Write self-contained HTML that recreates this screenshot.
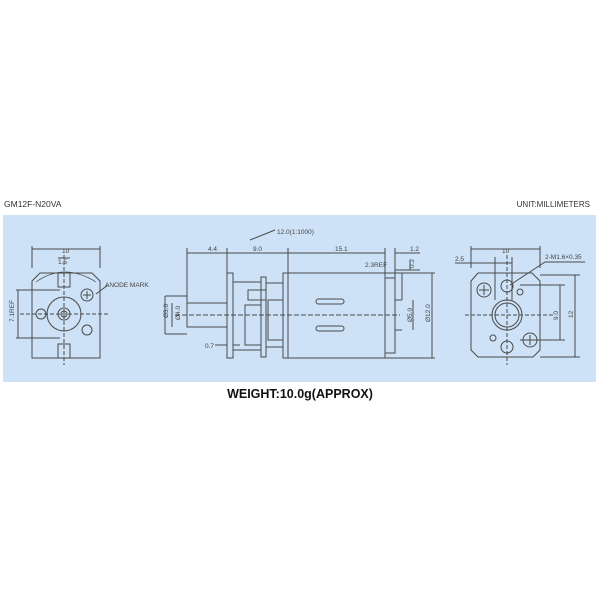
<!DOCTYPE html>
<html><head><meta charset="utf-8"><style>
html,body{margin:0;padding:0;background:#fff;width:600px;height:600px;overflow:hidden}
svg{display:block}
text{font-family:"Liberation Sans",sans-serif}
</style></head><body>
<svg width="600" height="600" viewBox="0 0 600 600" xmlns="http://www.w3.org/2000/svg">
<rect width="600" height="600" fill="#fff"/>
<text x="4" y="207" font-size="8.5" fill="#333">GM12F-N20VA</text>
<text x="590" y="207" font-size="8" fill="#333" text-anchor="end">UNIT:MILLIMETERS</text>
<rect x="3" y="215" width="593" height="167" fill="#cde2f6"/>
<text x="300" y="398" font-size="12.5" font-weight="bold" fill="#111" text-anchor="middle">WEIGHT:10.0g(APPROX)</text>
<g stroke="#4a4a4a" stroke-width="1" fill="none">
<!-- left view -->
<path d="M40,273 H92 L100,281 V358 H32 V281 Z"/>
<path d="M36,282 Q64,262 96,282" stroke-width="0.7"/>
<circle cx="64" cy="314" r="17"/><circle cx="64" cy="314" r="6"/><circle cx="64" cy="314" r="3"/>
<circle cx="41" cy="314" r="5"/><circle cx="87" cy="330" r="5"/><circle cx="87" cy="295" r="6"/>
<path d="M87,291 V299 M83,295 H91"/>
<rect x="58" y="273" width="12" height="14"/><rect x="58" y="344" width="12" height="14"/>
<path d="M32,246 V268 M100,246 V268 M32,249 H100 M58,258 H70 M16,290 H60 M16,338 H60 M18,290 V338 M96,294 L108,285" />
<path d="M20,314 H110 M64,255 V365" stroke-dasharray="4,2"/>
<!-- middle view -->
<rect x="187" y="303" width="40" height="24"/>
<rect x="227" y="273" width="6" height="85"/>
<rect x="261" y="277" width="5" height="80"/>
<rect x="283" y="273" width="5" height="85"/>
<rect x="288" y="273" width="97" height="85"/>
<rect x="385" y="278" width="10" height="75"/>
<path d="M233,282 H261 M233,350 H261 M266,283 H283 M266,347 H283 M248,290 H266 V300 H248 Z M245,305 H261 V345 H245 Z M268,300 H283 V340 H268 Z"/>
<rect x="316" y="299" width="28" height="5" rx="2.5"/><rect x="316" y="326" width="28" height="5" rx="2.5"/>
<path d="M395,300 H402 M395,330 H402 M402,273 V300 M395,270 H420 M410,260 V270"/>
<path d="M187,253 H385 M395,253 H420 M187,248 V303 M227,248 V273 M288,248 V273 M385,248 V278 M395,248 V278 M172,303 V327 M165,296 V334 M165,296 H187 M165,334 H187 M215,345 H227 M233,345 H240 M432,273 V358 M385,273 H435 M385,358 H435 M413,300 V330 M250,240 L275,230"/>
<path d="M175,315 H400" stroke-dasharray="5,2"/>
<!-- right view -->
<path d="M478,273 H532 L540,281 V350 L533,357 H478 L471,350 V281 Z"/>
<circle cx="507" cy="315" r="15"/><circle cx="507" cy="315" r="12"/>
<circle cx="484" cy="290" r="7"/><path d="M484,285 V295 M479,290 H489"/>
<circle cx="507" cy="286" r="6"/><circle cx="520" cy="292" r="3"/>
<circle cx="530" cy="340" r="7"/><path d="M530,335 V345 M525,340 H535"/>
<circle cx="507" cy="347" r="6"/><circle cx="493" cy="338" r="3"/>
<path d="M471,246 V268 M540,246 V268 M471,249 H540 M455,263 H512 M495,257 V300 M512,257 V300 M510,285 L545,262 H585 M540,275 H580 M540,357 H580 M575,275 V357 M520,285 H565 M520,340 H565 M560,285 V340"/>
<path d="M465,315 H555 M507,255 V365" stroke-dasharray="4,2"/>
</g>
<g font-size="6.5" fill="#444">
<text x="62" y="253">10</text><text x="58" y="264">1.5</text>
<text x="105" y="287">ANODE MARK</text>
<text x="14" y="322" transform="rotate(-90 14 322)">7.1REF</text>
<text x="208" y="251">4.4</text><text x="253" y="251">9.0</text><text x="335" y="251">15.1</text><text x="410" y="251">1.2</text>
<text x="277" y="234">12.0(1:1000)</text>
<text x="365" y="267">2.3REF</text><text x="414" y="268" transform="rotate(-90 414 268)">0.2</text>
<text x="180" y="320" transform="rotate(-90 180 320)">Ø4.0</text><text x="168" y="318" transform="rotate(-90 168 318)">Ø3.0</text>
<text x="205" y="348">0.7</text>
<text x="412" y="322" transform="rotate(-90 412 322)">Ø5.0</text><text x="430" y="322" transform="rotate(-90 430 322)">Ø12.0</text>
<text x="502" y="253">10</text><text x="455" y="261">2.5</text><text x="545" y="259">2-M1.6×0.35</text>
<text x="558" y="320" transform="rotate(-90 558 320)">9.0</text><text x="573" y="318" transform="rotate(-90 573 318)">12</text>
</g>
</svg>
</body></html>
